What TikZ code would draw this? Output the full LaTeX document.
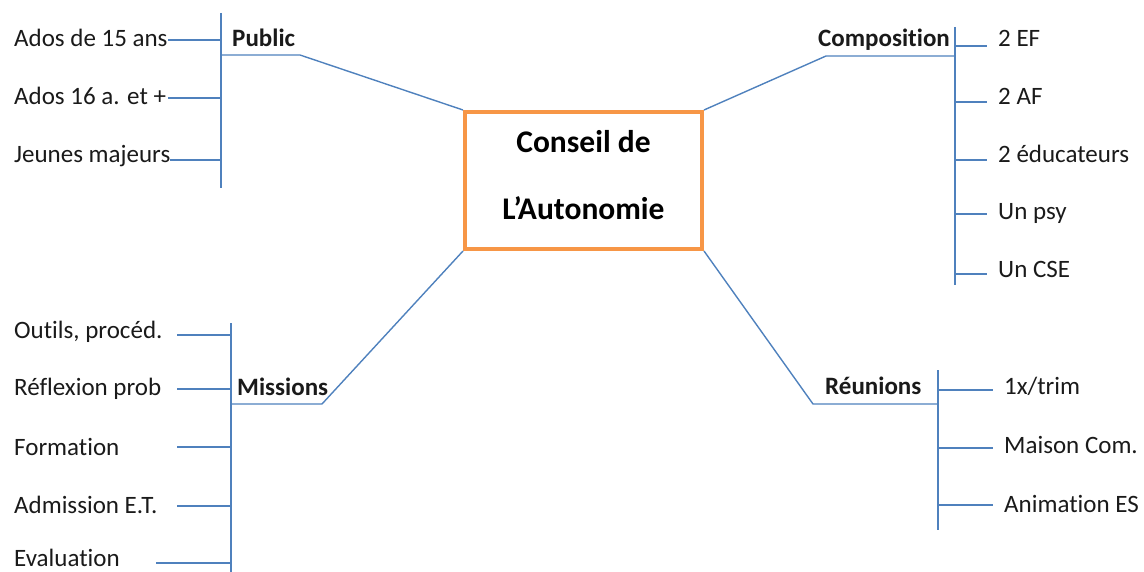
\documentclass[tikz,border=0pt]{standalone}
\usepackage{fontspec}
\setmainfont{Carlito}[Ligatures=NoCommon]
\definecolor{linkblue}{HTML}{4F81BD}
\definecolor{boxorange}{HTML}{F79646}
\definecolor{ink}{HTML}{1A1A1A}

\begin{document}
\begin{tikzpicture}[x=1pt,y=-1pt,
  item/.style={anchor=base west,inner sep=0pt,text=ink,font=\fontsize{25}{30}\selectfont},
  head/.style={item,font=\fontsize{25}{30}\selectfont\bfseries},
  title/.style={anchor=base,inner sep=0pt,text=black,font=\fontsize{31.5}{36}\selectfont\bfseries},
  link/.style={draw=linkblue,line width=1.4pt},
  corebox/.style={draw=boxorange,line width=4pt,inner sep=0pt,minimum width=237pt,minimum height=137pt}]

\useasboundingbox (0,0) rectangle (1144,572);

% central box
\node[corebox] (core) at (583.5,180.5) {};
\node[title] (t1) at (583.5,153) {Conseil de};
\node[title] (t2) at (583.5,220) {L’Autonomie};

% ---------- Public ----------
\node[head] (pub) at (232,47) {Public};
\coordinate (pubA) at (221,13);
\coordinate (pubB) at (221,188);
\draw[link] (pubA) -- (pubB);
\coordinate (pubU) at (221,55);
\coordinate (pubK) at (300,55);
\draw[link] (pubU) -- (pubK) -- (core.north west);
\node[item] (p1) at (14,47) {Ados de 15 ans};
\node[item] (p2) at (14,105) {Ados 16 a. et +};
\node[item] (p3) at (14,163) {Jeunes majeurs};
\coordinate (p1s) at (168,40);  \coordinate (p1e) at (221,40);
\coordinate (p2s) at (168,98);  \coordinate (p2e) at (221,98);
\coordinate (p3s) at (170,160); \coordinate (p3e) at (221,160);
\draw[link] (p1s) -- (p1e);
\draw[link] (p2s) -- (p2e);
\draw[link] (p3s) -- (p3e);

% ---------- Composition ----------
\node[head] (comp) at (818,47) {Composition};
\coordinate (compA) at (955,27);
\coordinate (compB) at (955,285);
\draw[link] (compA) -- (compB);
\coordinate (compU) at (955,56);
\coordinate (compK) at (826,56);
\draw[link] (compU) -- (compK) -- (core.north east);
\node[item] (c1) at (998,47) {2 EF};
\node[item] (c2) at (998,105) {2 AF};
\node[item] (c3) at (998,163) {2 éducateurs};
\node[item] (c4) at (998,220) {Un psy};
\node[item] (c5) at (998,278) {Un CSE};
\foreach \n/\y in {1/46,2/102,3/160,4/214,5/274}{
  \coordinate (c\n s) at (955,\y);
  \coordinate (c\n e) at (987,\y);
  \draw[link] (c\n s) -- (c\n e);
}

% ---------- Missions ----------
\node[head] (mis) at (237,395) {Missions};
\coordinate (misA) at (231,323);
\coordinate (misB) at (231,572);
\draw[link] (misA) -- (misB);
\coordinate (misU) at (232,404);
\coordinate (misK) at (322,404);
\draw[link] (misU) -- (misK) -- (core.south west);
\node[item] (m1) at (14,338) {Outils, procéd.};
\node[item] (m2) at (14,395) {Réflexion prob};
\node[item] (m3) at (14,455) {Formation};
\node[item] (m4) at (14,513) {Admission E.T.};
\node[item] (m5) at (14,566) {Evaluation};
\foreach \n/\x/\y in {1/177/335,2/177/389,3/177/447,4/177/506,5/156/563}{
  \coordinate (m\n s) at (\x,\y);
  \coordinate (m\n e) at (231,\y);
  \draw[link] (m\n s) -- (m\n e);
}

% ---------- Réunions ----------
\node[head] (reu) at (825,394) {Réunions};
\coordinate (reuA) at (938,370);
\coordinate (reuB) at (938,530);
\draw[link] (reuA) -- (reuB);
\coordinate (reuU) at (938,404);
\coordinate (reuK) at (813,404);
\draw[link] (reuU) -- (reuK) -- (core.south east);
\node[item] (r1) at (1004,394) {1x/trim};
\node[item] (r2) at (1004,453) {Maison Com.};
\node[item] (r3) at (1004,512) {Animation ES};
\foreach \n/\y in {1/390,2/448,3/505}{
  \coordinate (r\n s) at (938,\y);
  \coordinate (r\n e) at (993,\y);
  \draw[link] (r\n s) -- (r\n e);
}
\end{tikzpicture}
\end{document}
